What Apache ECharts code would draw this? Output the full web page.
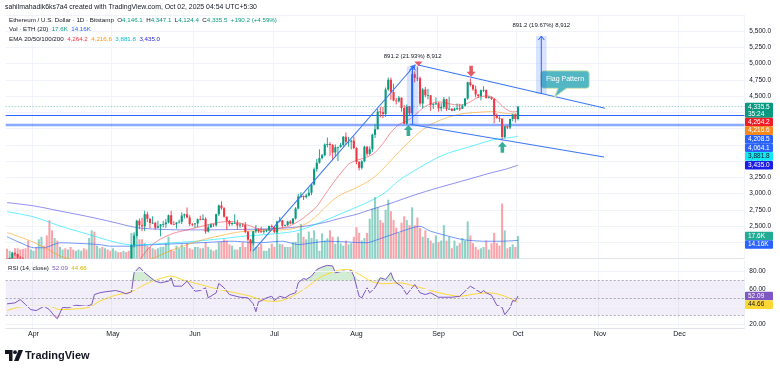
<!DOCTYPE html>
<html>
<head>
<meta charset="utf-8">
<title>ETH/USD</title>
<script src="https://cdn.jsdelivr.net/npm/echarts@6.0.0/dist/echarts.min.js"></script>
<style>
html,body{margin:0;padding:0;background:#ffffff;}
#chart{width:780px;height:370px;}
</style>
</head>
<body>
<div id="chart"></div>
<script>
// ================= DATA =================
const startDate = '2025-03-22';
const dayCount = 279;               // categories on the time axis (Mar 22 .. Dec 25)
const monthNames = ['Jan','Feb','Mar','Apr','May','Jun','Jul','Aug','Sep','Oct','Nov','Dec'];

// daily candles [open, close, low, high], from 2025-03-22 to 2025-10-01
const ohlc = [
[1983,1982,1965,1998],[1982,2008,1960,2018],[2008,2081,2005,2104],[2081,2069,2040,2094],[2069,2010,1995,2072],
[2010,2004,1985,2035],[2004,1896,1860,2017],[1896,1828,1803,1906],[1828,1806,1776,1842],[1806,1822,1774,1856],
[1822,1905,1812,1925],[1905,1796,1780,1955],[1796,1817,1750,1835],[1817,1817,1763,1837],[1817,1806,1775,1820],
[1806,1581,1540,1816],[1581,1554,1410,1640],[1554,1472,1445,1617],[1472,1668,1385,1690],[1668,1522,1505,1672],
[1522,1567,1505,1600],[1567,1645,1545,1660],[1645,1595,1570,1655],[1595,1623,1590,1690],[1623,1590,1580,1660],
[1590,1577,1540,1615],[1577,1583,1565,1610],[1583,1588,1570,1595],[1588,1613,1580,1625],[1613,1587,1570,1615],
[1587,1578,1565,1660],[1578,1756,1560,1780],[1756,1795,1740,1830],[1795,1770,1715,1800],[1770,1786,1755,1830],
[1786,1820,1780,1830],[1820,1793,1785,1855],[1793,1799,1740,1830],[1799,1798,1780,1835],[1798,1794,1752,1820],
[1794,1840,1790,1870],[1840,1842,1825,1870],[1842,1834,1830,1855],[1834,1806,1800,1845],[1806,1816,1785,1835],
[1816,1815,1765,1830],[1815,1810,1790,1860],[1810,2207,1805,2215],[2207,2345,2170,2405],[2345,2582,2325,2595],
[2582,2513,2450,2615],[2513,2496,2420,2625],[2496,2680,2420,2735],[2680,2610,2560,2720],[2610,2545,2470,2620],
[2545,2550,2530,2650],[2550,2475,2440,2560],[2475,2495,2465,2580],[2495,2525,2340,2530],[2525,2527,2480,2580],
[2527,2555,2470,2610],[2555,2665,2540,2675],[2665,2530,2515,2735],[2530,2527,2515,2575],[2527,2555,2460,2560],
[2555,2566,2540,2600],[2566,2663,2530,2710],[2663,2681,2615,2690],[2681,2632,2620,2785],[2632,2530,2500,2665],
[2530,2528,2495,2545],[2528,2538,2470,2545],[2538,2605,2480,2615],[2605,2595,2585,2660],[2595,2610,2590,2680],
[2610,2415,2380,2635],[2415,2480,2400,2525],[2480,2525,2470,2540],[2525,2510,2485,2535],[2510,2680,2490,2690],
[2680,2815,2655,2830],[2815,2772,2750,2880],[2772,2643,2630,2790],[2643,2578,2440,2645],[2578,2530,2500,2595],
[2530,2545,2505,2555],[2545,2548,2535,2680],[2548,2509,2450,2595],[2509,2525,2470,2545],[2525,2515,2485,2540],
[2515,2410,2390,2560],[2410,2290,2260,2425],[2290,2230,2110,2300],[2230,2420,2200,2425],[2420,2450,2390,2515],
[2450,2418,2395,2465],[2418,2415,2400,2490],[2415,2425,2380,2450],[2425,2435,2405,2445],[2435,2500,2420,2505],
[2500,2485,2470,2525],[2485,2405,2395,2495],[2405,2570,2390,2580],[2570,2590,2555,2640],[2590,2505,2475,2595],
[2505,2515,2495,2525],[2515,2570,2500,2580],[2570,2540,2525,2590],[2540,2615,2530,2620],[2615,2770,2600,2790],
[2770,2955,2755,2995],[2955,2960,2930,3020],[2960,2945,2900,2970],[2945,2970,2925,2995],[2970,3010,2955,3080],
[3010,3140,2975,3150],[3140,3375,3125,3400],[3375,3475,3335,3530],[3475,3545,3460,3680],[3545,3590,3525,3610],
[3590,3755,3570,3770],[3755,3760,3710,3860],[3760,3745,3580,3790],[3745,3630,3510,3760],[3630,3710,3570,3755],
[3710,3715,3500,3720],[3715,3745,3705,3775],[3745,3875,3720,3885],[3875,3795,3750,3940],[3795,3797,3720,3870],
[3797,3810,3680,3830],[3810,3700,3680,3880],[3700,3485,3450,3710],[3485,3395,3355,3500],[3395,3495,3370,3510],
[3495,3720,3480,3735],[3720,3610,3575,3730],[3610,3680,3590,3725],[3680,3905,3640,3920],[3905,3990,3855,4070],
[3990,4260,3985,4300],[4260,4250,4170,4330],[4250,4225,4160,4330],[4225,4600,4180,4630],[4600,4750,4580,4785],
[4750,4560,4440,4785],[4560,4430,4420,4690],[4430,4420,4370,4470],[4420,4475,4400,4500],[4475,4315,4260,4480],
[4315,4075,4065,4360],[4075,4340,4060,4370],[4340,4235,4205,4345],[4235,4835,4210,4885],[4835,4780,4710,4880],
[4780,4775,4730,4956],[4775,4385,4350,4800],[4385,4600,4310,4620],[4600,4510,4480,4640],[4510,4512,4450,4610],
[4512,4365,4270,4515],[4365,4375,4300,4390],[4375,4390,4360,4480],[4390,4310,4260,4405],[4310,4330,4265,4390],
[4330,4450,4300,4485],[4450,4300,4270,4455],[4300,4305,4285,4490],[4305,4275,4265,4315],[4275,4305,4270,4320],
[4305,4310,4285,4385],[4310,4305,4270,4380],[4305,4350,4300,4370],[4350,4460,4340,4470],[4460,4710,4440,4720],
[4710,4670,4645,4770],[4670,4605,4580,4680],[4605,4525,4480,4660],[4525,4500,4470,4530],[4500,4590,4430,4600],
[4590,4592,4560,4650],[4592,4470,4460,4600],[4470,4480,4460,4500],[4480,4455,4440,4490],[4455,4200,4080,4465],
[4200,4165,4150,4230],[4165,4150,4100,4190],[4150,3870,3815,4160],[3870,4035,3850,4040],[4035,4015,3990,4050],
[4015,4145,3990,4150],[4145,4215,4110,4225],[4215,4145.3,4090,4230],[4146.1,4335.5,4124.4,4347.1]
];

// daily volume, thousands of ETH
const volume = [
7.6,6,5,8,8,7,7.5,8,14,7, 6,9,15,17,10,18,30,22,16,14, 9,7,8,7,9,7,6,7,6,8, 7,16,22,21,10,8,9,8,7,6,
8,6,5,5,6,5,6,20,19,17, 15,15,12,10,9,8,7,8,9,9, 12,17,7,6,10,8,11,9,12,8, 7,9,9,8,8,12.7,9,7,6,7,
12.7,13,15,14,11,10,7,7,9,12.7, 9,13,14,11.5,9,9,11.5,6,6,8, 11.5,9,26,11.5,11,9,9,9,12.7,13,
20,27,17,15,21,16,22,15,6,19.7, 14,15.8,22,17,11.5,17,12,10,14,11, 12,17,24.5,20,14,16,20,31,39,48,
40,30,28,38,46,37,30,24,20,28, 33,30,26,40,26,32,24,17,22,16, 14,12,18,13,14,26,14,17,8,14,
10,12,16,14,29,18,12,9,7,8, 9,14,7,12,20,12,10,43,22,8, 9,11,9,17.6
];

// indicator readings [dayIndex, value]
const ema20 = [[0,2000],[5,1990],[10,1930],[15,1840],[20,1740],[25,1670],[30,1640],[35,1690],[40,1730],[45,1780],[48,1850],[51,2030],[54,2180],[58,2300],[63,2390],[68,2440],[72,2480],[76,2520],[80,2555],[84,2570],[88,2545],[92,2500],[96,2445],[101,2455],[106,2490],[110,2570],[114,2690],[117,2800],[120,2980],[123,3150],[126,3310],[129,3450],[132,3510],[136,3560],[139,3630],[142,3770],[145,3940],[148,4060],[152,4140],[155,4240],[158,4340],[163,4410],[167,4380],[171,4360],[174,4390],[178,4480],[182,4500],[185,4430],[188,4310],[191,4255],[193,4264.2]];
const ema50 = [[0,2400],[5,2330],[10,2250],[15,2150],[20,2040],[25,1980],[30,1950],[35,1930],[40,1910],[45,1900],[50,1940],[55,2000],[60,2090],[65,2170],[70,2240],[75,2300],[80,2345],[85,2390],[90,2420],[95,2425],[101,2435],[108,2460],[114,2560],[118,2700],[122,2860],[126,2980],[132,3090],[138,3230],[143,3420],[148,3640],[152,3800],[156,3950],[160,4060],[165,4150],[171,4220],[178,4250],[184,4260],[188,4235],[193,4216.6]];
const ema100 = [[0,2720],[10,2640],[20,2500],[30,2380],[40,2260],[47,2210],[52,2215],[60,2235],[71,2265],[80,2300],[90,2345],[101,2380],[110,2430],[118,2550],[125,2670],[132,2790],[138,2900],[143,3020],[148,3200],[153,3330],[158,3450],[163,3560],[168,3640],[174,3710],[178,3760],[183,3820],[188,3850],[192,3872],[193,3881.8]];
const ema200 = [[0,2860],[10,2810],[20,2730],[30,2650],[40,2560],[46,2500],[50,2470],[60,2445],[71,2440],[85,2445],[101,2460],[112,2495],[120,2555],[126,2620],[132,2680],[138,2760],[145,2850],[152,2950],[158,3030],[163,3090],[170,3170],[177,3250],[183,3320],[188,3370],[193,3435.0]];
const volMA = [[0,17],[5,12.3],[10,8.4],[14,8.4],[20,12.3],[35,10.9],[39,9.6],[47,9.6],[51,10.4],[73,12.3],[85,13.5],[95,12.3],[104,13.5],[110,10.9],[121,13.5],[136,12.3],[140,14.8],[148,20.5],[156,25.2],[160,21.3],[172,14.8],[180,13.5],[187,13.5],[193,14.16]];
const rsi = [[0,43.1],[3,44.2],[5,48],[7,42.3],[9,36.5],[11,35.4],[14,40.3],[16,36.5],[18,28.8],[19,26.1],[21,39.2],[23,38.5],[26,41.5],[30,40.3],[32,42.3],[33,53.8],[35,55.8],[37,56.9],[41,58.4],[43,56.9],[45,54.6],[47,56.9],[48,78.8],[50,85.3],[52,78.8],[54,73.8],[56,69.1],[58,67.3],[61,69.1],[62,73],[63,63.4],[66,63.4],[68,69.1],[70,61.5],[71,57.6],[73,58.4],[75,61.5],[76,50],[79,55.8],[80,66.5],[82,61.5],[84,53.8],[88,50.7],[91,50],[93,43.1],[94,34.2],[95,45.7],[96,46.5],[98,50],[100,51.8],[101,46.9],[103,51.8],[105,50],[107,53.8],[109,55.8],[110,67.3],[112,72.3],[113,71.1],[115,74.9],[117,82.6],[119,85.3],[121,87.3],[123,86.5],[124,78.8],[127,80.7],[129,80],[130,81.5],[131,74.9],[133,51.8],[134,50],[136,61.5],[137,55.8],[139,61.5],[141,73],[143,71.1],[145,78.8],[146,71.1],[147,67.3],[149,63.4],[151,53.8],[153,61.5],[154,65.3],[156,55.8],[158,53.8],[160,55.8],[163,50.7],[165,50.7],[168,50.7],[171,51.8],[173,57.6],[175,63.4],[177,59.6],[179,55.8],[180,58.4],[181,55.8],[183,53],[185,41.5],[187,39.2],[188,30.7],[190,38.5],[191,46.9],[192,46.1],[193,52.09]];
const rsiMA = [[0,35.4],[5,39.6],[11,40.3],[16,40.3],[20,36.5],[26,37.3],[31,39.2],[35,46.1],[41,53],[47,56.9],[52,65.3],[58,72.3],[62,74.9],[67,70],[73,65.3],[79,60.4],[86,55.8],[92,51.8],[97,46.9],[102,46.1],[107,50.7],[113,61.5],[118,73],[124,80.7],[129,82.6],[133,76.9],[138,68.5],[143,66.2],[148,67.3],[154,63.4],[160,58.4],[165,54.6],[171,51.8],[177,54.6],[182,55.8],[186,53.8],[190,49.5],[193,44.66]];

// drawings
const levels = [4208.5, 4064.1];                                  // horizontal support lines
const trendLines = [[92.9,2115,154.1,4977,1],[155.35,4977,225.9,4311,0],[152.2,4065,225.5,3562,0]]; // x0,y0,x1,y1,arrow
const rangeBoxes = [[151.0,155.4,4064.1,4955.3],[199.8,203.8,4530.8,5422.0]];                    // x0,x1,low,high
const downArrows = [[155.4,4962],[175.3,4797]];
const upArrows = [[151.6,4054],[187.1,3797]];
const callouts = [[206.7,4480,'Flag Pattern']];
const countdown = '35:24';

// ================= BUILD =================
const FONT = 'Liberation Sans, Arial, sans-serif';
const UP = '#089981', DOWN = '#f23645';
const dates = [];
{
  const t0 = Date.parse(startDate + 'T00:00:00Z');
  for (let i = 0; i < dayCount; i++) dates.push(new Date(t0 + i * 86400000).toISOString().slice(0, 10));
}
const isMonthStart = (i, v) => (typeof v === 'string' ? v : dates[i]).slice(8) === '01';
const fmt1 = v => v.toLocaleString('en-US', {minimumFractionDigits: 1, maximumFractionDigits: 1});
const last = a => a[a.length - 1];
const lastBar = last(ohlc), prevClose = ohlc[ohlc.length - 2][1];
const chg = lastBar[1] - prevClose, chgPct = chg / prevClose * 100;

const GL = 5.7, GR = 35.65;
const chart = echarts.init(document.getElementById('chart'), null, {width: 780, height: 370});

const rsiOBBase = rsi.map(([i]) => [i, 70]);
const rsiOB = rsi.map(([i, v]) => [i, Math.max(v, 70) - 70]);
const rsiOSBase = rsi.map(([i, v]) => [i, Math.min(v, 30)]);
const rsiOS = rsi.map(([i, v]) => [i, 30 - Math.min(v, 30)]);

function candleItem(params, api) {
  const i = api.value(0), o = api.value(1), c = api.value(2), l = api.value(3), h = api.value(4);
  const pO = api.coord([i, o]), pC = api.coord([i, c]), pL = api.coord([i, l]), pH = api.coord([i, h]);
  const x = pO[0], w = 2.1;
  const col = c >= o ? UP : DOWN;
  const top = Math.min(pO[1], pC[1]), bh = Math.max(Math.abs(pO[1] - pC[1]), 0.8);
  return {type: 'group', children: [
    {type: 'line', shape: {x1: x, y1: pH[1], x2: x, y2: pL[1]}, style: {stroke: col, lineWidth: 0.9}},
    {type: 'rect', shape: {x: x - w / 2, y: top, width: w, height: bh}, style: {fill: col}}
  ]};
}
function segItem(params, api) {
  const a = api.coord([api.value(0), api.value(1)]);
  const b = api.coord([api.value(2), api.value(3)]);
  const col = '#3b78f6';
  const ch = [{type: 'line', shape: {x1: a[0], y1: a[1], x2: b[0], y2: b[1]}, style: {stroke: col, lineWidth: 1.1}}];
  if (api.value(4)) {
    const ang = Math.atan2(b[1] - a[1], b[0] - a[0]), L = 5, w = 0.5;
    ch.push({type: 'polyline', shape: {points: [[b[0] - L * Math.cos(ang - w), b[1] - L * Math.sin(ang - w)], [b[0], b[1]], [b[0] - L * Math.cos(ang + w), b[1] - L * Math.sin(ang + w)]]}, style: {stroke: col, lineWidth: 1.1, fill: null}});
  }
  return {type: 'group', children: ch};
}
function boxItem(params, api) {
  const x0 = api.value(0), x1 = api.value(1), lo = api.value(2), hi = api.value(3);
  const pLo = api.coord([x0, lo]), pHi = api.coord([x1, hi]);
  const xm = (pLo[0] + pHi[0]) / 2;
  const d = hi - lo;
  const txt = d.toFixed(1) + ' (' + (d / lo * 100).toFixed(2) + '%) ' + Math.round(d * 10).toLocaleString('en-US');
  return {type: 'group', children: [
    {type: 'rect', shape: {x: pLo[0], y: pHi[1], width: pHi[0] - pLo[0], height: pLo[1] - pHi[1]}, style: {fill: 'rgba(41,98,255,0.18)'}},
    {type: 'line', shape: {x1: xm, y1: pLo[1], x2: xm, y2: pHi[1]}, style: {stroke: '#2962ff', lineWidth: 1}},
    {type: 'polyline', shape: {points: [[xm - 3, pHi[1] + 4], [xm, pHi[1]], [xm + 3, pHi[1] + 4]]}, style: {stroke: '#2962ff', lineWidth: 1, fill: null}},
    {type: 'text', x: xm, y: pHi[1] - 5, style: {text: txt, align: 'center', verticalAlign: 'bottom', fill: '#131722', font: '6px ' + FONT,
      backgroundColor: '#ffffff', padding: [2.5, 4], borderRadius: 2, boxShadowBlur: 4, boxShadowColor: 'rgba(0,0,0,0.3)'}}
  ]};
}
function calloutItem(params, api) {
  const p = api.coord([api.value(0), api.value(1)]);
  const label = callouts[params.dataIndex][2];
  const bx = p[0] - 13.5, by = p[1] - 26.5, bw = 48.5, bh = 17.5;
  const fill = '#53b6c3', edge = '#d6e6a4';
  return {type: 'group', children: [
    {type: 'rect', shape: {x: bx, y: by, width: bw, height: bh, r: 3}, style: {fill: fill, stroke: edge, lineWidth: 0.8}},
    {type: 'polygon', shape: {points: [[p[0], p[1]], [p[0] + 4, by + bh - 1], [p[0] + 13, by + bh - 1]]}, style: {fill: fill}},
    {type: 'polyline', shape: {points: [[p[0] + 4, by + bh], [p[0], p[1]], [p[0] + 13, by + bh]]}, style: {stroke: edge, lineWidth: 0.8, fill: null}},
    {type: 'text', x: bx + bw / 2, y: by + bh / 2, style: {text: label, align: 'center', verticalAlign: 'middle', fill: '#ffffff', font: '7px ' + FONT}}
  ]};
}

const option = {
  animation: false,
  backgroundColor: '#ffffff',
  grid: [
    {left: GL, right: GR, top: 14.75, height: 243.75},
    {left: GL, right: GR, top: 130.5, height: 128},
    {left: GL, right: GR, top: 261, height: 67}
  ],
  xAxis: [
    {type: 'category', gridIndex: 0, data: dates, boundaryGap: true,
     axisLine: {show: true, lineStyle: {color: '#e0e3eb'}}, axisTick: {show: false}, axisLabel: {show: false},
     splitLine: {show: true, interval: isMonthStart, lineStyle: {color: '#f0f3fa'}}},
    {type: 'value', gridIndex: 0, min: -0.5, max: dayCount - 0.5, show: false},
    {type: 'category', gridIndex: 1, data: dates, show: false},
    {type: 'category', gridIndex: 2, data: dates, boundaryGap: true,
     axisLine: {show: true, lineStyle: {color: '#e0e3eb'}}, axisTick: {show: false},
     axisLabel: {interval: isMonthStart, formatter: v => monthNames[+v.slice(5, 7) - 1], fontSize: 7, color: '#131722', margin: 3, fontFamily: FONT},
     splitLine: {show: true, interval: isMonthStart, lineStyle: {color: '#f0f3fa'}}}
  ],
  yAxis: [
    {type: 'value', gridIndex: 0, position: 'right', min: 2000, max: 5750, interval: 250,
     axisLine: {show: false}, axisTick: {show: false},
     axisLabel: {margin: 5, fontSize: 6.5, color: '#131722', fontFamily: FONT, formatter: v => (v >= 2500 && v <= 5500) ? fmt1(v) : ''},
     splitLine: {show: true, lineStyle: {color: '#f0f3fa'}}},
    {type: 'value', gridIndex: 1, min: 0, max: 100, show: false},
    {type: 'value', gridIndex: 2, position: 'right', min: 15.41, max: 92.27,
     axisLine: {show: false}, axisTick: {show: false}, axisLabel: {show: false}, splitLine: {show: false}}
  ],
  series: [
    {name: 'Volume', type: 'bar', xAxisIndex: 2, yAxisIndex: 1, barWidth: '78%', z: 1, silent: true,
     data: volume.map((v, i) => ({value: v, itemStyle: {color: ohlc[i][1] >= ohlc[i][0] ? 'rgba(8,153,129,0.45)' : 'rgba(242,54,69,0.45)'}}))},
    {name: 'Vol MA', type: 'line', xAxisIndex: 2, yAxisIndex: 1, data: volMA, symbol: 'none', smooth: 0.2, z: 2,
     lineStyle: {color: 'rgba(41,98,255,0.65)', width: 1}},
    {name: 'EMA200', type: 'line', xAxisIndex: 0, yAxisIndex: 0, data: ema200, symbol: 'none', smooth: 0.3, z: 3, lineStyle: {color: 'rgba(36,36,230,0.5)', width: 1}},
    {name: 'EMA100', type: 'line', xAxisIndex: 0, yAxisIndex: 0, data: ema100, symbol: 'none', smooth: 0.3, z: 3, lineStyle: {color: 'rgba(0,229,255,0.6)', width: 1}},
    {name: 'EMA50', type: 'line', xAxisIndex: 0, yAxisIndex: 0, data: ema50, symbol: 'none', smooth: 0.3, z: 3, lineStyle: {color: 'rgba(255,152,0,0.55)', width: 1}},
    {name: 'EMA20', type: 'line', xAxisIndex: 0, yAxisIndex: 0, data: ema20, symbol: 'none', smooth: 0.3, z: 3, lineStyle: {color: 'rgba(242,54,69,0.55)', width: 1}},
    {name: 'levels', type: 'line', xAxisIndex: 0, yAxisIndex: 0, data: [], z: 4, silent: true,
     markLine: {silent: true, symbol: 'none', label: {show: false}, animation: false, data: [
       {yAxis: lastBar[1], lineStyle: {color: 'rgba(8,153,129,0.55)', type: [1, 2], width: 1}},
       {yAxis: levels[0], lineStyle: {color: '#2962ff', type: 'solid', width: 1.1}},
       {yAxis: levels[1], lineStyle: {color: 'rgba(41,98,255,0.55)', type: 'solid', width: 2.4}}
     ]}},
    {name: 'ETH', type: 'custom', xAxisIndex: 0, yAxisIndex: 0, z: 5, clip: true, silent: true,
     data: ohlc.map((d, i) => [i, d[0], d[1], d[2], d[3]]), encode: {x: 0, y: [1, 2, 3, 4]}, renderItem: candleItem},
    {name: 'ranges', type: 'custom', xAxisIndex: 1, yAxisIndex: 0, z: 9, silent: true, clip: false, data: rangeBoxes, encode: {x: [0, 1], y: [2, 3]}, renderItem: boxItem},
    {name: 'trend', type: 'custom', xAxisIndex: 1, yAxisIndex: 0, z: 6, silent: true, data: trendLines, encode: {x: [0, 2], y: [1, 3]}, renderItem: segItem},
    {name: 'down', type: 'scatter', xAxisIndex: 1, yAxisIndex: 0, z: 7, silent: true, data: downArrows,
     symbol: 'path://M3,0 L7,0 L7,6 L10,6 L5,11 L0,6 L3,6 Z', symbolSize: [9, 11], symbolOffset: [0, -5.5], itemStyle: {color: '#e0313e'}},
    {name: 'up', type: 'scatter', xAxisIndex: 1, yAxisIndex: 0, z: 7, silent: true, data: upArrows,
     symbol: 'path://M5,0 L10,5 L7,5 L7,11 L3,11 L3,5 L0,5 Z', symbolSize: [9, 11], symbolOffset: [0, 5.5], itemStyle: {color: '#089981'}},
    {name: 'callout', type: 'custom', xAxisIndex: 1, yAxisIndex: 0, z: 8, silent: true, clip: false, data: callouts.map(c => [c[0], c[1]]), renderItem: calloutItem},
    // RSI pane
    {name: 'OBbase', type: 'line', xAxisIndex: 3, yAxisIndex: 2, data: rsiOBBase, stack: 'ob', symbol: 'none', lineStyle: {width: 0, opacity: 0}, z: 2, silent: true},
    {name: 'OB', type: 'line', xAxisIndex: 3, yAxisIndex: 2, data: rsiOB, stack: 'ob', symbol: 'none', lineStyle: {width: 0, opacity: 0}, areaStyle: {color: 'rgba(76,175,80,0.35)'}, z: 2, silent: true},
    {name: 'OSbase', type: 'line', xAxisIndex: 3, yAxisIndex: 2, data: rsiOSBase, stack: 'os', symbol: 'none', lineStyle: {width: 0, opacity: 0}, z: 2, silent: true},
    {name: 'OS', type: 'line', xAxisIndex: 3, yAxisIndex: 2, data: rsiOS, stack: 'os', symbol: 'none', lineStyle: {width: 0, opacity: 0}, areaStyle: {color: 'rgba(242,54,69,0.3)'}, z: 2, silent: true},
    {name: 'RSI-MA', type: 'line', xAxisIndex: 3, yAxisIndex: 2, data: rsiMA, symbol: 'none', smooth: 0.3, z: 3, lineStyle: {color: '#fdd835', width: 1},
     markLine: {silent: true, symbol: 'none', animation: false, lineStyle: {color: '#f0f3fa', type: 'solid', width: 1},
       label: {show: true, position: 'end', distance: 5, formatter: p => p.value.toFixed(2), color: '#131722', fontSize: 6.5, fontFamily: FONT},
       data: [20, 40, 60, 80].map(v => ({yAxis: v}))}},
    {name: 'RSI', type: 'line', xAxisIndex: 3, yAxisIndex: 2, data: rsi, symbol: 'none', z: 4, lineStyle: {color: '#7e57c2', width: 1},
     markArea: {silent: true, itemStyle: {color: 'rgba(126,87,194,0.1)'}, data: [[{yAxis: 70}, {yAxis: 30}]]},
     markLine: {silent: true, symbol: 'none', label: {show: false}, animation: false,
       lineStyle: {color: 'rgba(120,123,134,0.6)', type: [2, 2], width: 1},
       data: [{yAxis: 70}, {yAxis: 50}, {yAxis: 30}]}}
  ]
};
chart.setOption(option);

// ---------- overlay texts & right-scale badges ----------
function badgeEls(list) {
  const els = [];
  list.sort((a, b) => a.y - b.y);
  let bottom = -Infinity;
  list.forEach(b => {
    const h = b.h || 8.6, anchor = b.anchor == null ? h / 2 : b.anchor;
    const top = Math.max(b.y - anchor, bottom);
    bottom = top + h;
    els.push({type: 'rect', z: 100, shape: {x: 745, y: top, width: 28, height: h, r: 1}, style: {fill: b.bg}});
    els.push({type: 'text', z: 101, x: 748, y: top + (b.h ? 1 : h / 2), style: {text: b.text, fill: b.fg || '#ffffff', font: '6.5px ' + FONT,
      verticalAlign: b.h ? 'top' : 'middle', lineHeight: 7}});
  });
  return els;
}
const py0 = v => chart.convertToPixel({yAxisIndex: 0}, v);
const py1 = v => chart.convertToPixel({yAxisIndex: 1}, v);
const py2 = v => chart.convertToPixel({yAxisIndex: 2}, v);
const lastClose = lastBar[1];
const e20 = last(ema20)[1], e50 = last(ema50)[1], e100 = last(ema100)[1], e200 = last(ema200)[1];
const vLast = last(volume), vMA = last(volMA)[1];
const rLast = last(rsi)[1], rMALast = last(rsiMA)[1];

const badges = [].concat(
  badgeEls([
    {y: py0(lastClose), text: fmt1(lastClose) + '\n' + countdown, bg: '#089981', h: 15, anchor: 4},
    {y: py0(e20), text: fmt1(e20), bg: '#f21c26'},
    {y: py0(e50), text: fmt1(e50), bg: '#f7891c'},
    {y: py0(levels[0]), text: fmt1(levels[0]), bg: '#2962ff'},
    {y: py0(levels[1]), text: fmt1(levels[1]), bg: '#2962ff'},
    {y: py0(e100), text: fmt1(e100), bg: '#12e7f5', fg: '#131722'},
    {y: py0(e200), text: fmt1(e200), bg: '#1c1ce6'}
  ]),
  badgeEls([
    {y: py1(vLast), text: vLast.toFixed(1) + 'K', bg: '#22ab94'},
    {y: py1(vMA), text: vMA.toFixed(2) + 'K', bg: '#2962ff'}
  ]),
  badgeEls([
    {y: py2(rLast), text: rLast.toFixed(2), bg: '#7e57c2'},
    {y: py2(rMALast), text: rMALast.toFixed(2), bg: '#fdd835', fg: '#131722'}
  ])
);

const HS = '6.2px ' + FONT;
const richHead = {
  t: {fill: '#131722', font: HS},
  g: {fill: '#089981', font: HS},
  b: {fill: '#2962ff', font: HS},
  r: {fill: '#f23645', font: HS},
  o: {fill: '#ff9800', font: HS},
  c: {fill: '#00bcd4', font: HS},
  v: {fill: '#2b2bd9', font: HS},
  p: {fill: '#7e57c2', font: HS},
  y: {fill: '#e0b400', font: HS}
};
const line2 = '{t|Ethereum / U.S. Dollar · 1D · Bitstamp}  {t|O}{g|' + fmt1(lastBar[0]) + '}  {t|H}{g|' + fmt1(lastBar[3]) + '}  {t|L}{g|' + fmt1(lastBar[2]) +
  '}  {t|C}{g|' + fmt1(lastBar[1]) + '}  {g|' + (chg >= 0 ? '+' : '') + chg.toFixed(1) + ' (' + (chg >= 0 ? '+' : '') + chgPct.toFixed(2) + '%)}';
const line3 = '{t|Vol · ETH (20)}  {g|' + vLast.toFixed(1) + 'K}  {b|' + vMA.toFixed(2) + 'K}';
const line4 = '{t|EMA 20/50/100/200}  {r|' + fmt1(e20) + '}  {o|' + fmt1(e50) + '}  {c|' + fmt1(e100) + '}  {v|' + fmt1(e200) + '}';
const rsiLine = '{t|RSI (14, close)}  {p|' + rLast.toFixed(2) + '}  {y|' + rMALast.toFixed(2) + '}';

const texts = [
  {type: 'text', z: 110, x: 5, y: 7, style: {text: 'sahilmahadik6ks7a4 created with TradingView.com, Oct 02, 2025 04:54 UTC+5:30', fill: '#131722', font: '6.9px ' + FONT, verticalAlign: 'middle'}},
  {type: 'text', z: 110, x: 9, y: 20, style: {text: line2, rich: richHead, verticalAlign: 'middle', font: HS}},
  {type: 'text', z: 110, x: 9, y: 29.5, style: {text: line3, rich: richHead, verticalAlign: 'middle', font: HS}},
  {type: 'text', z: 110, x: 9, y: 39, style: {text: line4, rich: richHead, verticalAlign: 'middle', font: HS}},
  {type: 'text', z: 110, x: 8, y: 268, style: {text: rsiLine, rich: richHead, verticalAlign: 'middle', font: HS}},
  // TradingView logo
  {type: 'polygon', z: 110, shape: {points: [[5, 350], [12.5, 350], [12.5, 361], [9, 361], [9, 354], [5, 354]]}, style: {fill: '#131722'}},
  {type: 'circle', z: 110, shape: {cx: 15, cy: 352.2, r: 1.9}, style: {fill: '#131722'}},
  {type: 'polygon', z: 110, shape: {points: [[18.5, 350], [23, 350], [18.5, 361], [14, 361]]}, style: {fill: '#131722'}},
  {type: 'text', z: 110, x: 25, y: 355.5, style: {text: 'TradingView', fill: '#131722', font: 'bold 11px ' + FONT, verticalAlign: 'middle'}}
];

chart.setOption({graphic: {elements: texts.concat(badges)}});
</script>
</body>
</html>
